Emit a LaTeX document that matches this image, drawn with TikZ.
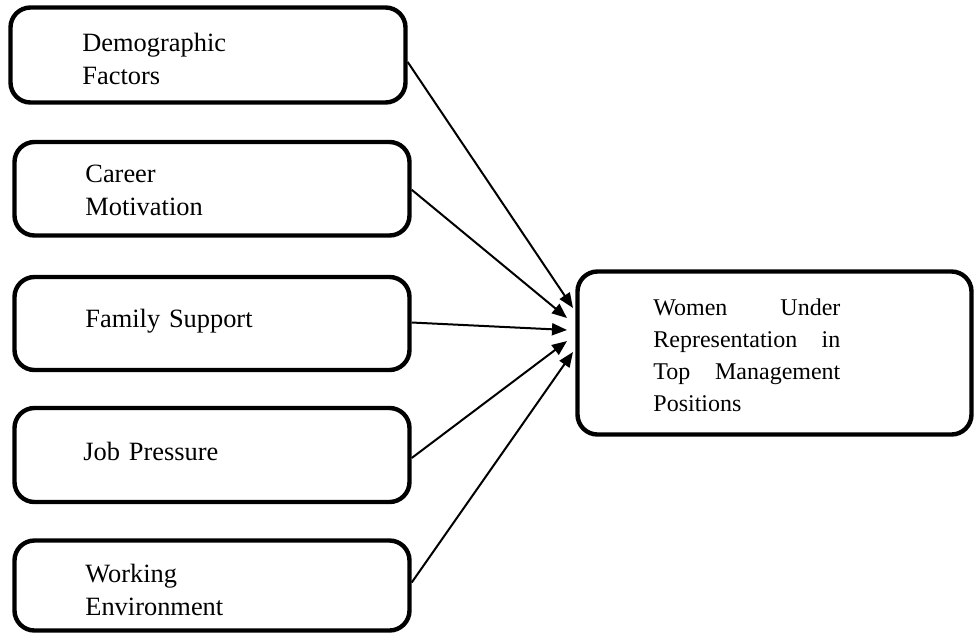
\documentclass[tikz,border=0pt]{standalone}
\usepackage{fontspec}
\setmainfont{Liberation Serif}
\usetikzlibrary{arrows.meta}
\begin{document}
\begin{tikzpicture}[x=0.5pt,y=-0.5pt,
  box/.style={draw=black, line width=2.2pt, rounded corners=10pt, inner sep=0pt, fill=white},
  lbl/.style={anchor=base west, inner sep=0pt, text width=100pt, align=left, font=\fontsize{13.2}{16.5}\selectfont},
  conn/.style={line width=1pt, -{Triangle[length=7.5pt,width=6pt]}}]
\useasboundingbox (0,0) rectangle (975,634);
% boxes
\node[box, minimum width=197.5pt, minimum height=47.5pt] (b1) at (208,55) {};
\node[box, minimum width=197.5pt, minimum height=46.75pt] (b2) at (212,188.75) {};
\node[box, minimum width=197.5pt, minimum height=46.5pt] (b3) at (212,323.5) {};
\node[box, minimum width=197.5pt, minimum height=47pt] (b4) at (212,455) {};
\node[box, minimum width=197.5pt, minimum height=45pt] (b5) at (212,585.5) {};
\node[box, minimum width=197pt, minimum height=81.5pt] (tg) at (774.5,353) {};
% labels
\node[lbl] (l1) at (82,51) {Demographic\\Factors};
\node[lbl] (l2) at (85,182) {Career\\Motivation};
\node[lbl] (l3) at (85,327) {Family Support};
\node[lbl] (l4) at (83,460) {Job Pressure};
\node[lbl] (l5) at (85,582) {Working\\Environment};
\node[anchor=base west, inner sep=0pt, text width=93.5pt, font=\fontsize{12}{16}\selectfont] (lt) at (653,315)
  {Women\hfill Under\par Representation\hfill in\par Top\hfill Management\par Positions};
% arrow tips
\coordinate (t1) at (573,308);
\coordinate (t2) at (567,318);
\coordinate (t3) at (567,330);
\coordinate (t4) at (567,341);
\coordinate (t5) at (573,352);
% connectors
\draw[conn] ([yshift=-3.5pt]b1.east) -- (t1);
\draw[conn] ([yshift=-0.5pt]b2.east) -- (t2);
\draw[conn] ([yshift=0.5pt]b3.east) -- (t3);
\draw[conn] ([yshift=-1.5pt]b4.east) -- (t4);
\draw[conn] ([yshift=1.5pt]b5.east) -- (t5);
\end{tikzpicture}
\end{document}
